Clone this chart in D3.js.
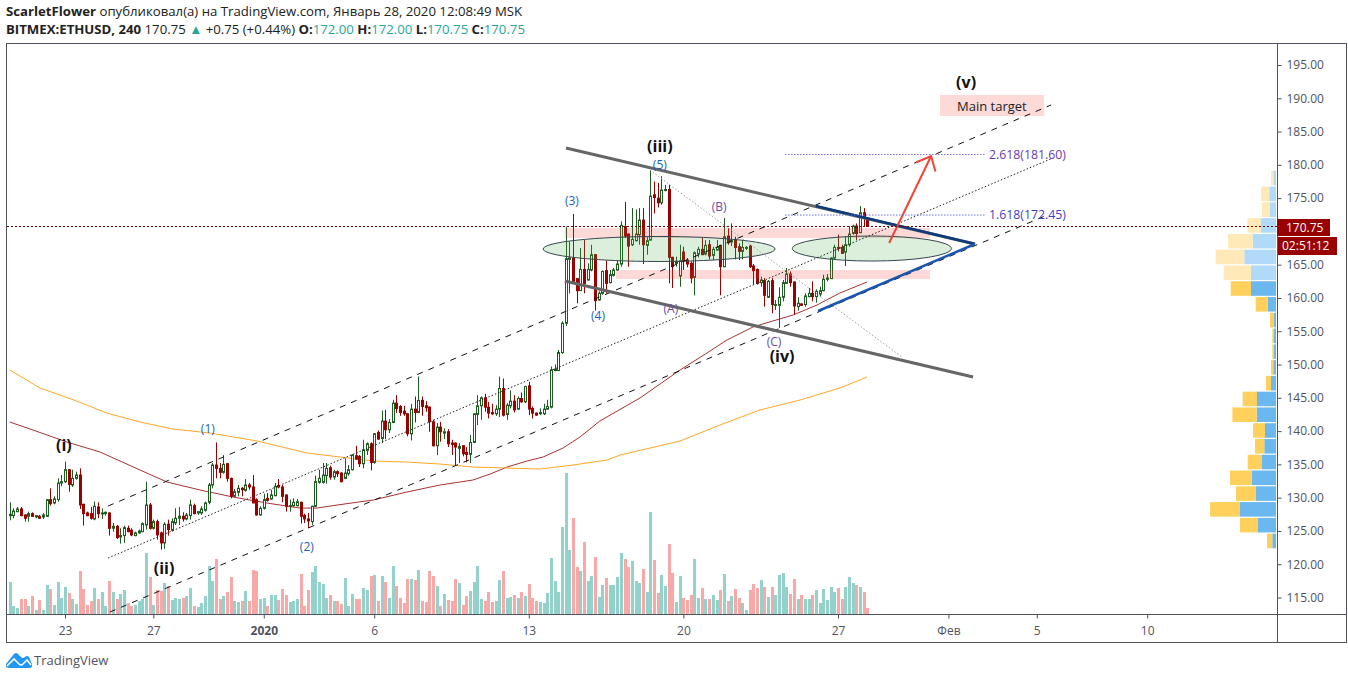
<!DOCTYPE html>
<html><head><meta charset="utf-8">
<script src="https://cdnjs.cloudflare.com/ajax/libs/d3/7.8.5/d3.min.js"></script>
<style>html,body{margin:0;padding:0;background:#fff}svg{display:block}text{font-family:"Open Sans",sans-serif}</style>
</head><body><svg id="c" width="1348" height="679"></svg>
<script>
const opens=[127.3,127.3,127.9,128.3,127.4,127.2,127.6,127.1,127.2,127.1,
127.2,129.7,129.2,129.7,132.2,132.4,134.2,131.9,132.9,133.4,
129.0,127.7,127.6,126.8,128.6,127.6,127.6,127.7,125.4,125.7,
124.1,124.3,125.4,125.1,124.3,124.7,124.9,125.9,128.9,125.4,
126.4,124.7,123.2,126.0,125.1,126.2,126.9,127.2,126.8,127.3,
128.8,127.7,127.7,128.1,129.3,131.9,134.9,134.4,133.8,135.1,
132.9,130.2,130.8,131.4,131.1,131.9,131.6,129.7,127.4,128.4,
129.9,129.8,130.3,131.8,131.6,130.4,128.7,128.8,128.8,129.3,
127.3,126.8,126.4,128.7,132.3,132.3,133.3,134.5,133.1,133.9,
133.7,132.9,133.6,134.2,136.3,136.2,135.1,137.1,138.1,135.3,
139.8,138.9,141.5,140.2,141.3,144.2,143.7,143.0,142.6,139.6,
143.3,142.8,144.6,143.8,143.6,141.4,137.8,140.6,139.7,139.9,
138.2,138.2,137.4,137.8,136.8,136.5,138.3,142.5,143.8,145.0,
143.6,142.8,142.6,143.3,146.4,142.5,143.8,144.5,143.3,144.9,
144.4,146.8,143.4,142.7,142.6,142.6,143.3,143.6,149.1,149.1,
151.8,156.2,165.8,166.0,162.9,161.1,164.3,162.7,164.2,166.5,
159.7,160.7,164.1,162.3,163.4,164.2,165.1,170.7,169.6,168.0,
168.6,169.5,171.7,167.9,168.7,175.5,175.0,174.3,176.2,176.3,
166.1,165.2,163.3,166.9,165.7,165.2,163.1,166.6,167.3,166.6,
168.0,166.4,167.2,167.9,164.7,169.3,168.4,168.8,167.7,167.0,
167.5,167.8,164.8,164.3,162.3,162.6,160.1,162.6,158.9,158.9,
160.1,162.2,163.6,162.4,158.7,159.1,159.0,160.2,160.7,160.2,
160.6,161.1,162.8,162.9,166.0,167.6,167.6,166.9,168.0,169.7,
170.8,169.8,172.8,172.0];
const highs=[129.3,128.4,128.6,128.6,127.5,127.9,127.8,127.4,127.4,127.7,
129.8,131.4,130.2,132.9,133.4,135.4,134.3,134.2,133.9,134.4,
129.1,127.9,128.6,129.4,129.3,128.4,127.9,127.8,126.2,125.9,
125.4,125.8,125.8,125.4,124.9,125.2,126.3,132.4,129.2,126.7,
126.7,124.9,126.3,126.7,126.9,128.4,128.6,127.8,127.7,129.7,
129.1,128.0,128.7,129.4,132.2,135.2,138.3,135.2,136.4,135.2,
133.0,131.3,131.9,131.6,132.8,132.2,133.4,129.9,128.7,130.6,
130.7,131.2,132.2,132.8,131.9,130.5,129.7,129.9,129.8,129.4,
127.6,127.7,128.8,133.3,134.2,135.2,135.2,134.8,134.2,134.1,
133.8,135.9,134.9,136.5,137.8,136.4,138.7,138.3,138.3,139.7,
140.1,143.1,143.2,141.8,144.7,145.4,143.9,143.8,142.7,144.1,
145.2,148.2,145.2,144.5,143.7,141.7,141.2,141.4,140.4,140.3,
138.7,138.3,138.2,137.9,137.6,139.4,142.7,145.4,145.2,145.6,
144.4,144.1,143.9,148.2,147.9,144.2,146.1,145.4,145.2,145.8,
146.8,147.4,143.7,142.8,143.4,144.1,144.7,149.7,150.0,152.2,
156.5,170.7,168.5,172.6,163.0,167.5,168.7,165.2,168.0,166.6,
161.0,164.1,165.6,164.2,164.5,165.6,171.5,174.4,169.7,173.5,
173.3,173.5,173.5,169.2,179.2,177.5,177.3,178.3,177.0,177.0,
166.2,166.2,168.0,167.7,166.0,165.5,167.0,167.7,169.1,168.7,
168.7,167.7,168.7,168.0,172.0,170.5,171.2,169.2,168.2,168.7,
167.8,168.0,165.1,164.4,163.2,163.0,162.7,163.0,159.7,161.6,
162.7,164.5,164.0,162.5,160.1,159.2,160.7,161.5,162.5,161.3,
161.7,163.5,163.6,166.1,168.0,169.5,168.0,169.2,170.8,171.0,
171.2,173.8,173.5,172.0];
const lows=[126.6,126.9,127.8,127.2,126.4,126.4,127.1,126.9,126.8,126.8,
127.1,128.8,129.0,129.4,131.7,132.2,130.9,131.6,132.7,128.3,
125.8,127.2,126.7,126.6,126.9,126.8,127.3,124.3,124.9,123.8,
123.1,123.2,124.8,124.2,124.2,124.6,124.8,125.2,125.2,125.2,
123.7,122.2,122.3,124.3,124.9,125.9,125.9,126.4,126.6,126.7,
127.5,127.4,127.4,127.9,129.0,131.4,132.9,132.9,133.6,132.4,
129.9,130.1,130.2,130.2,130.9,131.2,129.2,127.3,127.3,128.2,
129.4,129.7,130.2,131.4,129.3,127.9,127.9,128.6,128.7,126.1,
126.2,125.4,125.9,128.6,132.1,132.1,132.1,132.7,132.7,133.1,
132.3,132.8,133.3,134.1,135.7,134.6,134.4,136.4,134.1,135.1,
138.7,138.2,138.8,139.7,141.2,142.7,142.3,142.3,139.2,138.6,
141.3,142.7,142.3,142.9,139.9,137.7,136.4,138.4,138.8,137.6,
136.4,134.9,135.2,136.2,135.3,135.2,138.2,140.9,141.7,142.9,
141.9,142.4,142.3,142.1,142.2,141.7,143.4,142.8,143.2,144.2,
144.2,142.4,141.9,142.3,142.4,142.4,143.2,143.4,149.0,149.0,
151.6,155.8,160.7,162.2,159.2,161.1,160.7,162.6,164.0,158.1,
159.6,160.5,160.7,162.2,163.2,164.1,164.7,169.0,164.7,167.8,
168.5,168.0,165.1,166.5,168.6,172.7,173.6,174.0,176.0,162.2,
161.5,164.7,161.7,164.2,164.6,162.2,160.4,166.1,166.5,166.4,
165.8,165.7,167.1,160.4,164.6,168.0,167.8,165.8,165.7,165.8,
167.2,164.5,162.0,162.0,161.7,158.7,160.0,157.7,158.2,155.5,
159.5,162.1,161.7,157.5,158.1,158.8,158.7,160.1,159.5,159.3,
160.2,161.0,162.5,162.9,165.8,167.0,166.7,164.8,167.7,169.5,
168.7,169.8,170.7,170.75];
const closes=[127.5,128.0,128.3,127.3,126.9,127.6,127.2,127.3,126.9,127.4,
129.7,129.1,129.8,132.2,132.4,134.2,132.0,132.9,133.4,128.9,
127.6,127.3,126.9,128.7,127.6,127.7,127.8,125.4,125.7,124.0,
124.3,125.5,124.9,124.4,124.7,125.0,126.1,128.9,125.4,126.4,
124.4,123.2,126.0,125.2,126.4,126.9,127.2,126.8,127.4,128.9,
127.6,127.9,128.3,129.2,131.9,134.9,134.4,133.8,135.0,132.9,
130.2,130.9,131.4,131.2,131.9,131.6,129.2,127.4,128.4,129.7,
129.6,130.4,131.7,131.6,130.2,128.7,128.8,129.3,129.4,127.2,
126.8,126.5,128.7,132.4,132.9,133.4,134.4,133.1,133.9,133.6,
132.4,133.7,134.2,136.4,135.8,135.1,137.2,138.1,135.3,139.6,
138.8,141.5,140.2,141.3,144.2,143.4,142.8,142.6,139.6,143.3,
142.8,144.6,143.7,143.5,141.4,137.8,140.6,139.9,139.9,138.1,
138.0,137.6,137.7,136.6,136.5,138.3,142.6,143.8,145.0,143.6,
142.7,142.6,143.3,146.4,142.4,143.9,144.5,143.2,144.9,144.4,
146.7,143.3,142.7,142.4,142.8,143.3,143.7,149.2,149.3,151.8,
156.2,165.9,166.0,162.5,161.1,164.3,162.2,164.3,166.5,159.6,
160.7,164.0,162.2,163.5,164.2,165.1,170.9,169.3,167.8,168.8,
169.6,171.7,168.0,168.6,175.3,175.1,174.3,176.2,176.3,166.1,
164.7,165.5,165.6,165.6,165.1,163.0,166.8,167.3,166.5,167.9,
166.3,167.3,167.6,164.7,169.2,168.3,168.7,167.6,167.0,167.6,
167.6,164.7,164.1,162.2,162.7,160.4,162.5,159.0,159.0,160.1,
162.3,163.6,162.3,158.8,159.2,158.9,160.3,160.7,160.2,161.0,
161.1,162.8,163.0,166.0,167.6,167.5,166.7,168.0,169.6,170.8,
169.7,172.8,172.0,170.75];
const volumes=[32,8,6,15,15,8,18,4,14,4,29,25,9,32,16,27,21,15,10,43,
25,9,13,26,15,22,8,33,22,15,20,24,11,8,9,13,15,61,37,9,
24,23,31,28,14,16,15,16,18,26,8,7,11,18,48,33,55,15,18,22,
37,13,12,13,23,13,44,43,15,16,8,19,19,14,25,19,12,13,15,40,
8,24,42,48,32,30,16,19,13,13,10,36,8,20,15,15,26,24,38,39,
13,38,32,16,48,28,16,11,35,35,34,44,13,12,43,38,28,8,20,14,
13,35,31,9,18,23,32,48,15,13,22,12,13,34,43,16,17,19,16,22,
18,30,16,13,12,11,21,56,33,22,87,141,64,96,47,43,72,33,38,57,
17,29,36,29,29,37,61,55,47,53,33,31,45,22,102,54,21,39,28,70,
41,12,38,16,14,19,55,16,26,15,15,19,14,24,40,13,18,25,16,11,
4,24,30,26,34,27,17,27,19,39,41,27,20,35,15,19,15,15,19,24,
11,25,14,27,22,26,15,27,37,31,29,27,22,6];

const maSlowIdx=[0,6.3,15.5,24.5,35.4,42.7,51.7,60.6,69.9,78.8,83.5,88.9,98.7,107.9,116.9,125.8,130.5,135.1,140.5,144.9,150.3,154.9,160.3,171.2,182.1,189.4,194.8,201.9,207.3,212.8,219.3,225.5,232.9];
const maSlowVal=[141.36,140.16,138.36,136.86,134.15,132.35,131.15,130.10,129.19,128.44,128.44,128.89,129.64,130.85,131.90,132.65,133.55,134.60,135.50,136.11,137.46,139.11,141.51,144.97,149.18,151.73,153.68,155.64,156.54,157.44,158.94,160.74,162.40];
const maLongIdx=[0,8.2,17.4,26.4,35.4,44.3,54.4,67.2,80.7,89.7,98.7,107.9,116.9,125.8,135.1,144.0,153.0,162.2,165.8,182.1,192.9,203.8,214.7,225.5,232.9];
const maLongVal=[149.18,146.47,144.67,142.71,141.36,140.31,139.71,138.51,136.71,136.11,135.50,135.35,135.05,134.60,134.45,134.30,134.90,135.65,136.40,138.51,140.91,143.17,144.67,146.47,148.12];

const priceTicks=d3.range(115,196,5);
const timeIdx=[15,39,69,99,141,183,225,255,279,309];
const timeLabels=["23","27","2020","6","13","20","27","Фев","5","10"];

const profileUp=[3.7,18,36,20,24.3,14,11.7,11,19.3,19,5,2.7,2,2,2,8.3,25,25,31.7,23.3,15.3,6,6.7,2.7];
const profileDown=[5.3,18,30,20,21.7,14.3,9.3,12,24.3,14.3,5,2.3,1.7,1.7,4,12,20.3,27.3,28.7,24.7,13.3,8,8.3,2.3];
const profileStart=122.3, profileStep=2.37, profileLightFrom=17;

const waveLabels=["(i)","(ii)","(iii)","(iv)","(v)"];
const waveIdx=[14.7,41.9,176.6,209.8,259.8];
const wavePrice=[137.91,119.43,182.83,151.28,192.45];
const impulseLabels=["(1)","(2)","(3)","(4)","(5)"];
const impulseIdx=[53.8,80.7,152.7,159.8,176.6];
const impulsePrice=[140.31,122.58,174.57,157.29,179.98];
const correctionLabels=["(A)","(B)","(C)"];
const correctionIdx=[179.6,192.7,207.6];
const correctionPrice=[158.34,173.67,153.38];

const channelUpper=[[26.7,128.74],[282.9,189.0]];
const channelMiddle=[[26.7,120.93],[283.4,181.03]];
const channelLower=[[27.2,112.82],[281.2,172.31]];
const wedgeUpper=[[151.1,182.53],[262.2,168.11]];
const wedgeLower=[[150.8,162.55],[261.7,148.12]];
const triangleUpper=[[219.0,173.82],[262.2,168.11]];
const triangleLower=[[219.6,158.04],[262.2,168.11]];
const abcLine=[[173.9,179.22],[242.7,150.98]];
const arrowLine=[[238.9,168.26],[250.3,181.33]];
const zoneUpper=[150.8,250.0,170.51,169.01];
const zoneLower=[164.7,250.0,164.20,162.85];
const targetZone=[252.7,281.0,190.49,187.34];
const ellipses=[[176.4,167.36,31.5,1.88],[234.2,167.43,21.6,1.88]];
const fibLevels=[181.55,172.46];
const fibText=["2.618(181.60)","1.618(172.45)"];
const lastPrice=170.75;

const x=d3.scaleLinear().domain([15,225]).range([65,838]);
const y=d3.scaleLinear().domain([115,195]).range([597.5,65]);
const yVol=d3.scaleLinear().domain([0,141]).range([614,473]);
const xProf=d3.scaleLinear().domain([0,1]).range([0,1]);

const svg=d3.select("#c");
const defs=svg.append("defs");
defs.append("clipPath").attr("id","plot").append("rect").attr("x",7).attr("y",44).attr("width",1270).attr("height",570);
const axisCol="#50535e";

// header
const h1=svg.append("text").attr("x",6).attr("y",16).attr("font-size",13.2).attr("fill","#222");
h1.append("tspan").attr("font-weight",700).text("ScarletFlower");
h1.append("tspan").text(" опубликовал(а) на TradingView.com, Январь 28, 2020 12:08:49 MSK");
const h2=svg.append("text").attr("x",6).attr("y",34).attr("font-size",13.2).attr("fill","#222");
h2.append("tspan").attr("font-weight",700).text("BITMEX:ETHUSD, 240");
h2.append("tspan").text("  170.75 ");
h2.append("tspan").attr("fill","#26a69a").text("▲");
h2.append("tspan").text(" +0.75 (+0.44%) ");
["O:","H:","L:","C:"].forEach((k,i)=>{
  h2.append("tspan").attr("font-weight",700).text(k);
  h2.append("tspan").attr("fill","#26a69a").text(["172.00 ","172.00 ","170.75 ","170.75"][i]);
});

// frame
svg.append("rect").attr("x",6.5).attr("y",43.5).attr("width",1340).attr("height",599).attr("fill","none").attr("stroke",axisCol);
svg.append("line").attr("x1",6).attr("x2",1347).attr("y1",614.5).attr("y2",614.5).attr("stroke",axisCol);
svg.append("line").attr("x1",1277.5).attr("x2",1277.5).attr("y1",43).attr("y2",643).attr("stroke",axisCol);

const plot=svg.append("g").attr("clip-path","url(#plot)");

// volume profile
const rowH=Math.abs(y(profileStep)-y(0));
const prof=plot.append("g");
profileUp.forEach((u,i)=>{
  const top=y(profileStart+profileStep*(i+1));
  const light=i>=profileLightFrom;
  const d=profileDown[i];
  prof.append("rect").attr("x",1276-xProf(u)).attr("y",top+.5).attr("width",xProf(u)).attr("height",rowH-1.2).attr("fill",light?"#b0daf7":"#6bb7f0");
  prof.append("rect").attr("x",1276-xProf(u)-xProf(d)).attr("y",top+.5).attr("width",xProf(d)).attr("height",rowH-1.2).attr("fill",light?"#ffe9b8":"#ffd15c");
});

// volume
plot.append("g").selectAll("rect").data(volumes).join("rect")
 .attr("x",(d,i)=>Math.round(x(i))-1).attr("width",3)
 .attr("y",d=>yVol(d)).attr("height",d=>yVol(0)-yVol(d))
 .attr("fill",(d,i)=>closes[i]>=opens[i]?"#93d2cb":"#f9a8a8");

// moving averages
const maLine=d3.line().x(d=>x(d[0])).y(d=>y(d[1]));
plot.append("path").attr("d",maLine(maSlowIdx.map((v,i)=>[v,maSlowVal[i]]))).attr("fill","none").attr("stroke","#a83232").attr("stroke-width",1);
plot.append("path").attr("d",maLine(maLongIdx.map((v,i)=>[v,maLongVal[i]]))).attr("fill","none").attr("stroke","#ffa726").attr("stroke-width",1);

// candles
const green="#1b5e20", red="#990000";
const cand=plot.append("g").selectAll("g").data(opens).join("g");
cand.append("line").attr("x1",(d,i)=>Math.round(x(i))+.5).attr("x2",(d,i)=>Math.round(x(i))+.5)
 .attr("y1",(d,i)=>y(highs[i])).attr("y2",(d,i)=>y(lows[i]))
 .attr("stroke",(d,i)=>closes[i]>=d?green:red);
cand.append("rect").attr("x",(d,i)=>Math.round(x(i))-.5).attr("width",2)
 .attr("y",(d,i)=>Math.min(y(d),y(closes[i]))).attr("height",(d,i)=>Math.max(1,Math.abs(y(d)-y(closes[i]))))
 .attr("fill",(d,i)=>closes[i]>=d?"#fff":red)
 .attr("stroke",(d,i)=>closes[i]>=d?green:red);

// drawings
const seg=(a,col,w,dash,op)=>{plot.append("line").attr("x1",x(a[0][0])).attr("y1",y(a[0][1])).attr("x2",x(a[1][0])).attr("y2",y(a[1][1]))
 .attr("stroke",col).attr("stroke-width",w).attr("stroke-dasharray",dash||null).attr("opacity",op||1);};
const zone=(z,f)=>plot.append("rect").attr("x",x(z[0])).attr("width",x(z[1])-x(z[0])).attr("y",y(z[2])).attr("height",y(z[3])-y(z[2])).attr("fill",f).attr("fill-opacity",.2);
zone(zoneUpper,"#f44336");zone(zoneLower,"#f44336");
plot.selectAll("ellipse").data(ellipses).join("ellipse")
 .attr("cx",d=>x(d[0])).attr("cy",d=>y(d[1])).attr("rx",d=>x(d[2])-x(0)).attr("ry",d=>y(0)-y(d[3]))
 .attr("fill","#4caf50").attr("fill-opacity",.2).attr("stroke","#37474f").attr("stroke-width",1);
zone(targetZone,"#f44336");
seg(abcLine,"#9e9e9e",1,"1.5 2");
seg(channelUpper,"#111",1,"6 6");
seg(channelMiddle,"#222",1,"1.5 2");
seg(channelLower,"#111",1,"6 6");
seg(wedgeUpper,"#666",3);
seg(wedgeLower,"#666",3);
seg(triangleUpper,"#0d3a7a",2.5);
seg(triangleLower,"#1a56b0",2.5);
// projection arrow
const a0=[x(arrowLine[0][0]),y(arrowLine[0][1])],a1=[x(arrowLine[1][0]),y(arrowLine[1][1])];
seg(arrowLine,"#f44336",2);
const ang=Math.atan2(a1[1]-a0[1],a1[0]-a0[0]);
const head=[ang+Math.PI-0.72,ang+Math.PI+0.72].map(t=>[a1[0]+16*Math.cos(t),a1[1]+16*Math.sin(t)]);
plot.append("path").attr("d",d3.line()([head[0],a1,head[1]])).attr("fill","none").attr("stroke","#f44336").attr("stroke-width",2);

// fibonacci levels
const fibCol=["#8e6bd8","#6a70dc"], fibTextCol=["#673ab7","#3f3fc8"];
fibLevels.forEach((p,i)=>{
  plot.append("line").attr("x1",785).attr("x2",985).attr("y1",y(p)).attr("y2",y(p)).attr("stroke",fibCol[i]).attr("stroke-dasharray","1.5 1.5");
  plot.append("text").attr("x",989).attr("y",y(p)).attr("dy","0.35em").attr("font-size",12.3).attr("fill",fibTextCol[i]).text(fibText[i]);
});

// last price line
plot.append("line").attr("x1",7).attr("x2",1277).attr("y1",Math.round(y(lastPrice))+.5).attr("y2",Math.round(y(lastPrice))+.5).attr("stroke","#7a0000").attr("stroke-dasharray","2 2");

// labels
const lab=(t,i,p,size,col,w)=>plot.append("text").attr("x",x(i)).attr("y",y(p)).attr("dy","0.35em").attr("text-anchor","middle").attr("font-size",size).attr("font-weight",w||400).attr("fill",col).text(t);
waveLabels.forEach((t,i)=>lab(t,waveIdx[i],wavePrice[i],16,"#111",700));
impulseLabels.forEach((t,i)=>lab(t,impulseIdx[i],impulsePrice[i],12,"#1c5fb8"));
correctionLabels.forEach((t,i)=>lab(t,correctionIdx[i],correctionPrice[i],12,"#6a4ca8"));
lab("Main target",266.8,188.84,13,"#222");

// axes
const yAxis=d3.axisRight(y).tickValues(priceTicks).tickSize(4).tickPadding(5).tickFormat(d3.format(".2f"));
const gy=svg.append("g").attr("transform","translate(1277.5,0)").call(yAxis);
const xAxis=d3.axisBottom(x).tickValues(timeIdx).tickSize(4).tickPadding(8).tickFormat((d,i)=>timeLabels[i]);
const gx=svg.append("g").attr("transform","translate(0,614.5)").call(xAxis);
[gy,gx].forEach(g=>{g.select(".domain").remove();g.selectAll("line").attr("stroke",axisCol);g.selectAll("text").attr("fill",axisCol).attr("font-size",12).attr("font-family",'"Open Sans",sans-serif');});
gx.selectAll("text").filter((d,i)=>timeLabels[i]==="2020").attr("font-weight",700);

// price tags
svg.append("rect").attr("x",1277).attr("y",219).attr("width",53).attr("height",17).attr("fill",red);
svg.append("text").attr("x",1286).attr("y",227.5).attr("dy","0.35em").attr("font-size",12).attr("fill","#fff").text("170.75");
svg.append("rect").attr("x",1278).attr("y",237).attr("width",59).attr("height",18).attr("fill",red);
svg.append("text").attr("x",1282).attr("y",246).attr("dy","0.35em").attr("font-size",12).attr("fill","#fff").text("02:51:12");

// footer logo
const logo=svg.append("g").attr("transform","translate(6,652)");
logo.append("path").attr("d","M0 12 L8 2 Q10 0 12 2 L15 5 Q17 7 19 5 Q21 3 23 5 L26 12 Q27 16 23 16 L3 16 Q-1 16 0 12Z").attr("fill","#2196f3");
logo.append("path").attr("d","M1 14 L8 7 L13 12 Q15 14 17 12 L21 8 L25 13").attr("fill","none").attr("stroke","#fff").attr("stroke-width",1.6);
svg.append("text").attr("x",34).attr("y",665).attr("font-size",13).attr("fill","#50535e").text("TradingView");
</script></body></html>
